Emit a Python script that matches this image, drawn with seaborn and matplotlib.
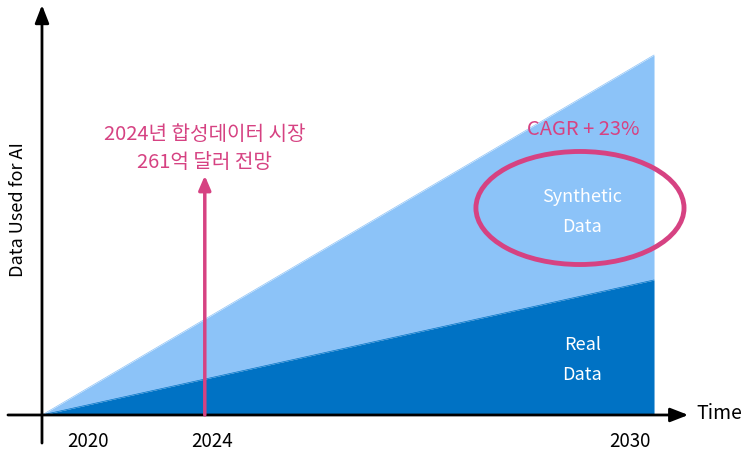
import matplotlib
matplotlib.use("Agg")
import matplotlib.pyplot as plt
from matplotlib.patches import Ellipse
import seaborn as sns
import pandas as pd

# time position (arbitrary units) and data volume
time_pos = [0, 10]
real_data = [0, 37.5]
total_data = [0, 100]

tick_pos = [0.75, 2.78, 9.6]
tick_labels = ["2020", "2024", "2030"]

marker_x = 2.66
marker_top = 66.5
marker_lines = ["2024년 합성데이터 시장", "261억 달러 전망"]
cagr_text = "CAGR + 23%"

LIGHT = "#8CC3F8"
DARK = "#0072C4"
PINK = "#D64282"

sns.set_theme(style="white")
plt.rcParams["font.family"] = ["Noto Sans CJK KR", "DejaVu Sans"]

df = pd.DataFrame({"t": time_pos, "real": real_data, "total": total_data})

fig = plt.figure(figsize=(7.44, 4.53), dpi=100)
ax = fig.add_axes([0, 0, 1, 1])
ax.set_xlim(-0.686, 11.47)
ax.set_ylim(-10.56, 115.28)
ax.axis("off")

# stacked areas
ax.fill_between(df["t"], df["real"], df["total"], color=LIGHT, lw=0)
ax.fill_between(df["t"], 0, df["real"], color=DARK, lw=0)
sns.lineplot(data=df, x="t", y="total", ax=ax, color=LIGHT, lw=0.5)
sns.lineplot(data=df, x="t", y="real", ax=ax, color=DARK, lw=0.5)

# axes arrows
ax.annotate("", xy=(10.56, 0), xytext=(-0.556, 0),
            arrowprops=dict(arrowstyle="-|>,head_length=0.9,head_width=0.35", color="black", lw=2,
                            shrinkA=0, shrinkB=0))
ax.annotate("", xy=(0, 113.9), xytext=(0, -7.8),
            arrowprops=dict(arrowstyle="-|>,head_length=0.9,head_width=0.35", color="black", lw=2,
                            shrinkA=0, shrinkB=0))

ax.text(10.7, 0.5, "Time", ha="left", va="center", fontsize=14, color="black")
ax.text(-0.39, 57.2, "Data Used for AI", ha="center", va="center", rotation=90,
        fontsize=13, color="black")

for p, lab in zip(tick_pos, tick_labels):
    ax.text(p, -7.4, lab, ha="center", va="center", fontsize=13.5, color="black")

# 2024 marker
ax.annotate("", xy=(marker_x, marker_top), xytext=(marker_x, 0),
            arrowprops=dict(arrowstyle="-|>,head_length=0.7,head_width=0.3", color=PINK, lw=2.5,
                            shrinkA=0, shrinkB=0))
ax.text(marker_x, 77.8, marker_lines[0], ha="center", va="center", fontsize=14.5, color=PINK)
ax.text(marker_x, 70.0, marker_lines[1], ha="center", va="center", fontsize=14.5, color=PINK)

# synthetic / real labels
ax.text(8.85, 79.2, cagr_text, ha="center", va="center", fontsize=14.5, color=PINK)
ax.text(8.83, 60.6, "Synthetic", ha="center", va="center", fontsize=13, color="white")
ax.text(8.83, 52.2, "Data", ha="center", va="center", fontsize=13, color="white")
ax.text(8.83, 19.4, "Real", ha="center", va="center", fontsize=13, color="white")
ax.text(8.83, 11.1, "Data", ha="center", va="center", fontsize=13, color="white")
ax.add_patch(Ellipse((8.79, 57.5), 3.4, 31.4, fill=False, edgecolor=PINK, lw=3.5))

fig.savefig("out.png", dpi=100)
